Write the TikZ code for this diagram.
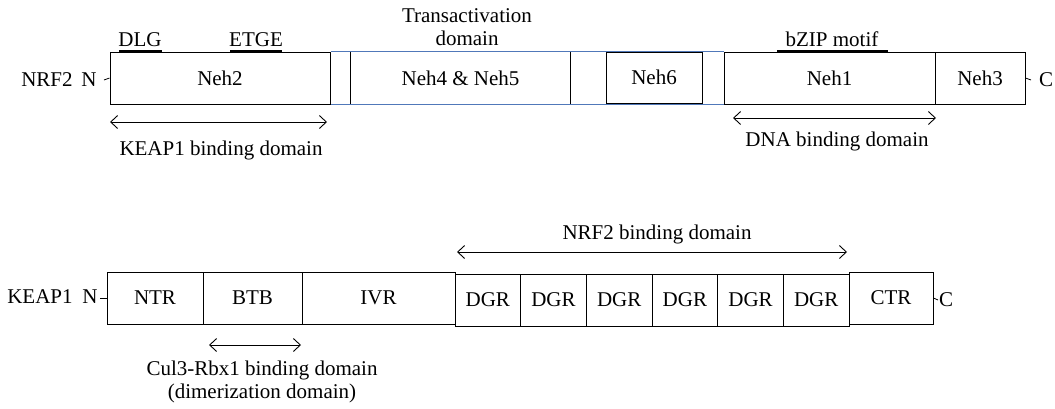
\documentclass[tikz,border=0pt]{standalone}
\usepackage{fontspec}
\setmainfont{Liberation Serif}
\usetikzlibrary{arrows.meta}
\pgfdeclarelayer{background}
\pgfsetlayers{background,main}
\definecolor{linkblue}{RGB}{80,120,185}
\begin{document}
\begin{tikzpicture}[x=1pt,y=-1pt,
  txt/.style={inner sep=0pt, font=\fontsize{21}{23}\selectfont},
  box/.style={txt, draw=black, line width=1pt, minimum height=52pt},
  openbox/.style={txt, minimum height=52pt},
  span/.style={{Straight Barb[length=7pt,width=13pt]}-{Straight Barb[length=7pt,width=13pt]}, line width=0.9pt},
  ul/.style={line width=2pt},
  tick/.style={line width=0.8pt},
  linker/.style={draw=linkblue, line width=1pt}]
\useasboundingbox (0,0) rectangle (1055,408);

% ---------- NRF2 ----------
\node[box, minimum width=220pt] (neh2) at (220,78) {Neh2};
\node[openbox, minimum width=219pt] (neh45) at (460.5,78) {Neh4 \& Neh5};
\node[box, minimum width=96pt, minimum height=51pt] (neh6) at (654,77.5) {Neh6};
\node[box, minimum width=211pt] (neh1) at (829.5,78) {Neh1};
\node[box, minimum width=90pt] (neh3) at (980,78) {Neh3};
\draw[line width=1pt] (neh45.north west) -- (neh45.south west);
\draw[line width=1pt] (neh45.north east) -- (neh45.south east);
\begin{pgfonlayer}{background}
\draw[linker] (neh2.north east) -- (neh1.north west);
\draw[linker] (neh2.south east) -- (neh1.south west);
\end{pgfonlayer}

\node[txt] (nrf2) at (47,80) {NRF2};
\node[txt] (nrfN) at (89,80) {N};
\coordinate (nrfNt) at (104,80);
\draw[tick] (nrfNt) -- (neh2.west);
\coordinate (nrfCt) at (1031,80);
\draw[tick] (neh3.east) -- (nrfCt);
\node[txt] (nrfC) at (1046,80) {C};

\node[txt] (dlg) at (140,40) {DLG};
\draw[ul] (119,51) -- (162,51);
\node[txt] (etge) at (256,40) {ETGE};
\draw[ul] (230,51) -- (282,51);
\node[txt] (bzip) at (832,39) {bZIP motif};
\draw[ul] (777,51) -- (888,51);
\node[txt, align=center] (trans) at (467,27) {Transactivation\\domain};

\coordinate (ka) at (110,122);
\coordinate (kb) at (327,122);
\draw[span] (ka) -- (kb);
\node[txt] (keapbd) at (221,150) {KEAP1 binding domain};
\coordinate (da) at (733,118);
\coordinate (db) at (936,118);
\draw[span] (da) -- (db);
\node[txt] (dnabd) at (837,141) {DNA binding domain};

% ---------- KEAP1 ----------
\node[box, minimum width=96pt] (ntr) at (155,298) {NTR};
\node[box, minimum width=99pt] (btb) at (252.5,298) {BTB};
\node[box, minimum width=153pt] (ivr) at (378.5,298) {IVR};
\foreach \i in {0,...,5}{
  \node[box, minimum width=65.67pt] (dgr\i) at ({455+32.83+65.67*\i},300) {DGR};
}
\node[box, minimum width=84pt] (ctr) at (891,298) {CTR};

\node[txt] (keap1) at (40,297) {KEAP1};
\node[txt] (keapN) at (90,297) {N};
\coordinate (keapNt) at (100,298);
\draw[tick] (keapNt) -- (ntr.west);
\coordinate (keapCt) at (938,300);
\draw[tick] (ctr.east) -- (keapCt);
\node[txt] (keapC) at (946,300) {C};

\coordinate (na) at (457,252);
\coordinate (nb) at (847,252);
\draw[span] (na) -- (nb);
\node[txt] (nrfbd) at (657,234) {NRF2 binding domain};

\coordinate (ca) at (209,345);
\coordinate (cb) at (301,345);
\draw[span] (ca) -- (cb);
\node[txt, align=center] (cul3) at (262,381.5) {Cul3-Rbx1 binding domain\\(dimerization domain)};
\end{tikzpicture}
\end{document}
